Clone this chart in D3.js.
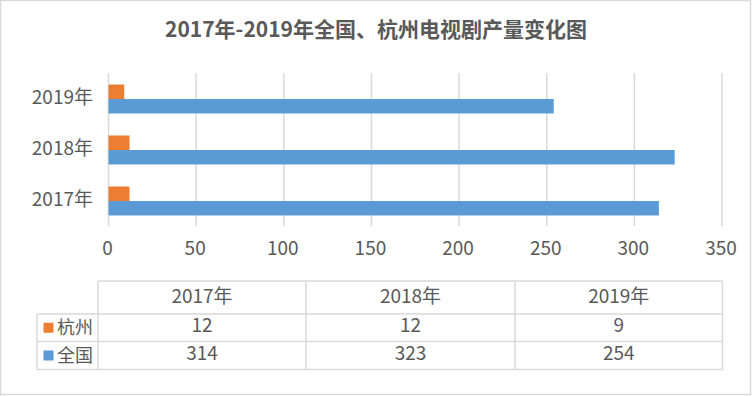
<!DOCTYPE html>
<html>
<head>
<meta charset="utf-8">
<script src="https://cdn.jsdelivr.net/npm/d3@7"></script>
<style>
  body { margin: 0; background: #fff; }
  svg text { font-family: "Noto Sans CJK SC", "Noto Sans", sans-serif; fill: #595959; }
</style>
</head>
<body>
<svg id="chart" width="752" height="396"></svg>
<script>
var title = '2017年-2019年全国、杭州电视剧产量变化图'
var years = ['2017年', '2018年', '2019年']
var hangzhou = [12, 12, 9]
var national = [314, 323, 254]
var seriesNames = ['杭州', '全国']
var seriesColors = ['#ed7d31', '#5b9bd5']
var xTicks = [0, 50, 100, 150, 200, 250, 300, 350]

var svg = d3.select('#chart')
var labelSize = '19px'

// outer frame
svg.append('rect')
  .attr('x', 0.5).attr('y', 0.5)
  .attr('width', 750).attr('height', 394)
  .attr('fill', '#fff')
  .attr('stroke', '#d9d9d9')
  .attr('stroke-width', 1.5)

svg.append('text')
  .attr('x', 376).attr('y', 37)
  .attr('text-anchor', 'middle')
  .style('font-size', '21px')
  .style('font-weight', 'bold')
  .text(title)

var x = d3.scaleLinear().domain([0, 350]).range([108.5, 722])
var y = d3.scaleBand().domain(years.slice().reverse()).range([73.5, 226.5])
var inner = d3.scaleBand().domain(seriesNames).range([0, y.bandwidth()]).paddingInner(0).paddingOuter(0.76)

// vertical grid
svg.append('g')
  .selectAll('line')
  .data(xTicks)
  .enter()
  .append('line')
  .attr('x1', function(d) { return x(d) })
  .attr('x2', function(d) { return x(d) })
  .attr('y1', 73)
  .attr('y2', 226)
  .attr('stroke', '#d9d9d9')
  .attr('stroke-width', 1.5)

// tick labels
svg.append('g')
  .selectAll('text')
  .data(xTicks)
  .enter()
  .append('text')
  .attr('x', function(d) { return x(d) - 1 })
  .attr('y', 255)
  .attr('text-anchor', 'middle')
  .style('font-size', labelSize)
  .text(function(d) { return d })

svg.append('g')
  .selectAll('text')
  .data(years)
  .enter()
  .append('text')
  .attr('x', 93)
  .attr('y', function(d) { return y(d) + y.bandwidth() / 2 + 5 })
  .attr('text-anchor', 'end')
  .style('font-size', labelSize)
  .text(function(d) { return d })

var series = [hangzhou, national]
series.forEach(function(vals, si) {
  svg.append('g')
    .selectAll('rect')
    .data(vals)
    .enter()
    .append('rect')
    .attr('x', x(0))
    .attr('y', function(d, i) { return y(years[i]) + inner(seriesNames[si]) })
    .attr('width', function(d) { return x(d) - x(0) })
    .attr('height', inner.bandwidth())
    .attr('fill', seriesColors[si])
})

// data table
var colX = [98, 306, 515, 722.5]
var rowY = [281, 314, 341.5, 369.5]
var legendLeft = 37
var tbl = svg.append('g')
var gridStroke = '#d9d9d9'

function hline(x1, x2, yy) {
  tbl.append('line').attr('x1', x1).attr('x2', x2).attr('y1', yy).attr('y2', yy)
    .attr('stroke', gridStroke).attr('stroke-width', 1.5)
}
function vline(xx, y1, y2) {
  tbl.append('line').attr('x1', xx).attr('x2', xx).attr('y1', y1).attr('y2', y2)
    .attr('stroke', gridStroke).attr('stroke-width', 1.5)
}
hline(colX[0], colX[3], rowY[0])
hline(legendLeft, colX[3], rowY[1])
hline(legendLeft, colX[3], rowY[2])
hline(legendLeft, colX[3], rowY[3])
colX.forEach(function(cx) { vline(cx, rowY[0], rowY[3]) })
vline(legendLeft, rowY[1], rowY[3])

years.forEach(function(yr, i) {
  var cx = (colX[i] + colX[i + 1]) / 2
  tbl.append('text').attr('x', cx).attr('y', (rowY[0] + rowY[1]) / 2 + 5)
    .attr('text-anchor', 'middle').style('font-size', labelSize).text(yr)
  series.forEach(function(vals, si) {
    tbl.append('text').attr('x', cx).attr('y', (rowY[si + 1] + rowY[si + 2]) / 2 + 4.5)
      .attr('text-anchor', 'middle').style('font-size', labelSize).text(vals[i])
  })
})

seriesNames.forEach(function(name, si) {
  var cy = (rowY[si + 1] + rowY[si + 2]) / 2
  tbl.append('rect').attr('x', 43.5).attr('y', cy - 5).attr('width', 10).attr('height', 10)
    .attr('fill', seriesColors[si])
  tbl.append('text').attr('x', 57).attr('y', cy + 6).style('font-size', '18px').text(name)
})
</script>
</body>
</html>
